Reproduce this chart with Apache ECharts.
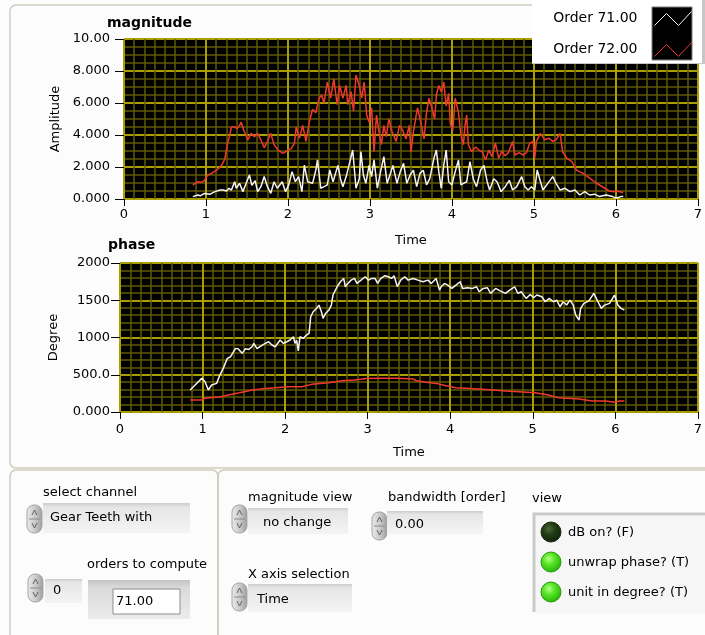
<!DOCTYPE html>
<html>
<head>
<meta charset="utf-8">
<script src="https://cdn.jsdelivr.net/npm/echarts@6/dist/echarts.min.js"></script>
<style>
  html, body { margin: 0; padding: 0; background: #fcfcfc; }
  #main { width: 705px; height: 635px; }
</style>
</head>
<body>
<div id="main"></div>
<script>
// ---- tick labels -------------------------------------------------------
const timeTicks = ['0', '1', '2', '3', '4', '5', '6', '7'];
const magYLabels = ['0.000', '2.000', '4.000', '6.000', '8.000', '10.00'];
const phaseYLabels = ['0.000', '500.0', '1000', '1500', '2000'];

const seriesNames = ['Order 71.00', 'Order 72.00'];

// ---- magnitude: [time, amplitude] --------------------------------------
const magnitude71 = [
  [0.84,0.15],[0.90,0.25],[0.93,0.2],[0.98,0.35],[1.05,0.3],[1.11,0.46],[1.17,0.56],[1.21,0.56],
  [1.25,0.5],[1.28,0.67],[1.31,0.56],[1.35,1.08],[1.37,0.67],[1.41,0.98],[1.45,0.46],[1.49,0.98],
  [1.53,1.5],[1.56,0.85],[1.60,1.15],[1.63,0.46],[1.67,0.77],[1.71,1.4],[1.75,0.77],[1.79,0.35],
  [1.83,1.08],[1.87,0.67],[1.93,1.08],[1.97,0.46],[2.01,0.88],[2.05,1.71],[2.09,1.08],[2.13,1.4],
  [2.17,0.46],[2.20,2.12],[2.24,1.08],[2.30,0.98],[2.34,1.8],[2.36,2.44],[2.40,0.67],[2.44,0.77],
  [2.48,0.88],[2.51,1.81],[2.55,1.08],[2.58,1.6],[2.61,2.1],[2.64,1.27],[2.67,0.77],[2.71,1.4],
  [2.75,2.23],[2.79,3.06],[2.83,0.67],[2.87,1.27],[2.89,2.96],[2.92,1.5],[2.95,0.98],[2.99,2.1],
  [3.02,1.4],[3.05,2.44],[3.09,0.67],[3.13,1.71],[3.17,2.65],[3.21,0.98],[3.25,1.6],[3.28,2.1],
  [3.33,0.98],[3.37,1.71],[3.41,2.23],[3.45,0.98],[3.49,1.5],[3.53,1.8],[3.57,0.77],[3.61,1.6],
  [3.65,1.8],[3.69,0.88],[3.73,1.27],[3.78,2.54],[3.81,3.06],[3.84,1.71],[3.87,0.67],[3.90,2.1],
  [3.93,3.06],[3.96,1.08],[4.00,0.88],[4.04,1.71],[4.08,2.44],[4.11,0.88],[4.14,0.98],[4.18,1.08],
  [4.22,2.33],[4.26,1.27],[4.30,0.77],[4.35,1.81],[4.39,2.1],[4.43,1.08],[4.46,0.56],[4.51,1.27],
  [4.55,1.08],[4.60,0.46],[4.65,0.77],[4.70,1.17],[4.74,0.56],[4.79,0.77],[4.85,1.4],[4.89,0.77],
  [4.93,0.56],[4.97,0.77],[5.01,0.56],[5.04,1.81],[5.07,1.27],[5.11,0.56],[5.17,0.98],[5.23,1.4],
  [5.27,0.98],[5.32,0.56],[5.38,0.67],[5.44,0.46],[5.50,0.56],[5.56,0.25],[5.62,0.46],[5.68,0.25],
  [5.74,0.3],[5.80,0.15],[5.88,0.25],[5.96,0.15],[6.00,0.05],[6.06,0.15],[6.09,0.15]
];
const magnitude72 = [
  [0.84,0.88],[0.90,1.08],[0.95,1.05],[0.98,1.15],[1.02,1.5],[1.07,1.6],[1.13,1.8],[1.19,2.1],
  [1.23,2.5],[1.26,3.4],[1.29,4.0],[1.31,4.5],[1.35,4.5],[1.38,4.4],[1.41,4.6],[1.43,4.8],
  [1.46,4.3],[1.51,3.7],[1.55,4.1],[1.59,3.9],[1.63,4.1],[1.67,3.7],[1.71,3.2],[1.75,3.6],
  [1.79,4.1],[1.83,3.4],[1.88,3.05],[1.94,2.85],[2.00,3.05],[2.04,3.15],[2.08,3.5],[2.10,4.5],
  [2.14,3.8],[2.18,4.6],[2.22,3.6],[2.26,4.8],[2.30,5.6],[2.34,5.4],[2.38,6.3],[2.41,6.5],
  [2.44,6.0],[2.48,7.3],[2.52,6.3],[2.56,7.5],[2.60,5.9],[2.63,7.1],[2.67,6.3],[2.71,7.1],
  [2.73,5.9],[2.77,6.7],[2.80,5.5],[2.83,7.75],[2.87,7.1],[2.90,6.3],[2.93,7.3],[2.96,5.25],
  [2.99,4.8],[3.02,5.7],[3.05,2.95],[3.08,5.25],[3.11,4.2],[3.14,3.4],[3.17,4.6],[3.20,3.9],
  [3.23,5.0],[3.27,4.2],[3.32,3.6],[3.36,4.6],[3.40,4.3],[3.44,3.75],[3.48,4.6],[3.50,2.95],
  [3.53,4.2],[3.58,5.7],[3.62,4.8],[3.66,3.75],[3.69,5.4],[3.72,6.3],[3.75,5.8],[3.79,5.0],
  [3.81,6.5],[3.84,7.1],[3.87,6.7],[3.90,7.3],[3.93,5.8],[3.96,6.6],[3.98,4.7],[4.01,4.3],
  [4.04,6.3],[4.08,5.4],[4.11,4.0],[4.14,3.4],[4.16,4.6],[4.18,5.25],[4.20,3.4],[4.24,2.95],
  [4.29,3.25],[4.33,3.05],[4.37,2.95],[4.41,2.45],[4.45,3.05],[4.49,2.65],[4.53,3.5],[4.57,2.55],
  [4.61,3.0],[4.65,2.7],[4.69,2.9],[4.74,3.6],[4.77,2.75],[4.82,2.9],[4.87,2.75],[4.91,2.9],
  [4.95,3.5],[4.99,3.6],[5.01,2.55],[5.03,3.6],[5.08,4.1],[5.13,3.7],[5.18,3.8],[5.23,3.6],
  [5.27,3.7],[5.32,4.1],[5.35,2.95],[5.40,2.55],[5.46,2.35],[5.52,1.8],[5.60,1.6],[5.68,1.3],
  [5.76,1.0],[5.84,0.75],[5.92,0.5],[5.97,0.45],[6.01,0.5],[6.05,0.45],[6.09,0.4]
];

// ---- phase: [time, degree] ----------------------------------------------
const phase71 = [
  [0.85,295],[0.91,362],[0.99,451],[1.03,407],[1.07,295],[1.11,362],[1.17,384],[1.21,496],
  [1.25,585],[1.30,720],[1.34,742],[1.40,854],[1.43,850],[1.48,787],[1.52,850],[1.56,840],
  [1.60,876],[1.62,921],[1.66,850],[1.70,880],[1.76,921],[1.80,943],[1.84,899],[1.88,876],
  [1.94,966],[1.98,921],[2.02,943],[2.06,966],[2.10,1010],[2.12,921],[2.14,960],[2.16,820],
  [2.18,1010],[2.22,988],[2.26,1033],[2.29,1055],[2.31,1279],[2.34,1346],[2.38,1390],[2.41,1435],
  [2.44,1346],[2.46,1256],[2.49,1323],[2.53,1368],[2.56,1435],[2.58,1570],[2.63,1681],[2.67,1748],
  [2.71,1793],[2.73,1681],[2.76,1726],[2.80,1770],[2.84,1793],[2.87,1726],[2.92,1770],[2.97,1815],
  [3.01,1770],[3.05,1793],[3.09,1793],[3.12,1726],[3.16,1793],[3.21,1829],[3.25,1815],[3.29,1793],
  [3.32,1829],[3.36,1681],[3.40,1770],[3.45,1815],[3.49,1770],[3.55,1793],[3.61,1770],[3.67,1748],
  [3.73,1770],[3.77,1726],[3.83,1793],[3.87,1637],[3.89,1681],[3.93,1726],[3.97,1704],[4.02,1659],
  [4.07,1704],[4.12,1748],[4.15,1659],[4.21,1668],[4.27,1659],[4.32,1681],[4.35,1614],[4.40,1659],
  [4.45,1668],[4.49,1592],[4.55,1659],[4.61,1623],[4.67,1592],[4.72,1637],[4.78,1681],[4.82,1592],
  [4.86,1614],[4.92,1525],[4.97,1578],[5.01,1534],[5.05,1570],[5.11,1547],[5.15,1480],[5.20,1525],
  [5.25,1480],[5.29,1502],[5.33,1413],[5.37,1480],[5.41,1435],[5.45,1502],[5.49,1435],[5.52,1302],
  [5.56,1234],[5.58,1391],[5.62,1458],[5.68,1491],[5.74,1592],[5.79,1480],[5.83,1391],[5.87,1435],
  [5.93,1458],[5.99,1570],[6.03,1435],[6.07,1391],[6.11,1368]
];
const phase72 = [
  [0.85,161],[0.99,161],[1.03,183],[1.15,197],[1.22,205],[1.31,228],[1.45,259],[1.60,295],
  [1.76,317],[1.88,326],[2.04,340],[2.20,340],[2.32,371],[2.53,393],[2.69,420],[2.84,429],
  [2.99,450],[3.13,452],[3.37,452],[3.55,443],[3.59,420],[3.71,398],[3.83,384],[3.95,353],
  [4.07,326],[4.35,308],[4.51,295],[4.67,282],[4.83,273],[5.03,259],[5.19,228],[5.31,192],
  [5.56,175],[5.72,148],[5.88,148],[5.99,130],[6.05,148],[6.11,148]
];

// ---- styling ------------------------------------------------------------
const FONT = '"DejaVu Sans", Verdana, sans-serif';
const MAJOR = '#aa9e00';
const MINOR = '#605a00';
const WHITE_LINE = '#f4f4f4';
const RED_LINE = '#f0382e';

function timeAxis(gridIndex, labelMargin, nameGap) {
  return {
    type: 'value', gridIndex, min: 0, max: 7, interval: 1,
    axisLine: { show: false },
    axisTick: { show: true, length: 7, lineStyle: { color: '#000' } },
    axisLabel: { color: '#000', fontSize: 13, fontFamily: FONT, margin: labelMargin,
      formatter: v => timeTicks[Math.round(v)] },
    splitLine: { show: true, lineStyle: { color: MAJOR, width: 2 } },
    minorTick: { show: false, splitNumber: 8 },
    minorSplitLine: { show: true, lineStyle: { color: MINOR, width: 1.5 } },
    name: 'Time', nameLocation: 'middle', nameGap,
    nameTextStyle: { color: '#000', fontSize: 13, fontFamily: FONT }
  };
}

function valueAxis(gridIndex, max, interval, minorSplit, labels, name, labelMargin, nameGap) {
  return {
    type: 'value', gridIndex, min: 0, max, interval,
    axisLine: { show: false },
    axisTick: { show: true, length: 9, lineStyle: { color: '#000' } },
    axisLabel: { color: '#000', fontSize: 13, fontFamily: FONT, margin: labelMargin,
      formatter: v => labels[Math.round(v / interval)] },
    splitLine: { show: true, lineStyle: { color: MAJOR, width: 2 } },
    minorTick: { show: false, splitNumber: minorSplit },
    minorSplitLine: { show: true, lineStyle: { color: MINOR, width: 1.5 } },
    name, nameLocation: 'middle', nameGap, nameRotate: 90,
    nameTextStyle: { color: '#000', fontSize: 13, fontFamily: FONT }
  };
}

function lineSeries(name, data, color, xi) {
  return {
    type: 'line', name, data, xAxisIndex: xi, yAxisIndex: xi, z: 3,
    showSymbol: false, symbol: 'none', animation: false, clip: true,
    lineStyle: { color, width: 1.5 }, itemStyle: { color }
  };
}

// ---- front-panel decorations --------------------------------------------
function spinner(x, y, h) {
  const m = h / 2;
  return {
    type: 'group', x, y, z: 2, children: [
      { type: 'rect', shape: { x: 0, y: 0, width: 15, height: h, r: 7 },
        style: { fill: { type: 'linear', x: 0, y: 0, x2: 1, y2: 0,
          colorStops: [{ offset: 0, color: '#ececec' }, { offset: 0.55, color: '#c8c8c8' }, { offset: 1, color: '#9a9a9a' }] },
          stroke: '#a4a4a4', lineWidth: 1 } },
      { type: 'line', shape: { x1: 2, y1: m, x2: 13, y2: m }, style: { stroke: '#8a8a8a', lineWidth: 1 } },
      { type: 'polyline', shape: { points: [[5, m - 4], [7.5, m - 9], [10, m - 4]] }, style: { stroke: '#606060', fill: null, lineWidth: 1 } },
      { type: 'polyline', shape: { points: [[5, m + 4], [7.5, m + 9], [10, m + 4]] }, style: { stroke: '#606060', fill: null, lineWidth: 1 } }
    ]
  };
}

function ringBox(x, y, w, h) {
  return { type: 'rect', z: 1, shape: { x, y, width: w, height: h },
    style: { fill: { type: 'linear', x: 0, y: 0, x2: 0, y2: 1,
      colorStops: [{ offset: 0, color: '#cdcdcd' }, { offset: 0.14, color: '#e6e6e6' }, { offset: 1, color: '#f4f4f4' }] } } };
}

function label(text, x, y) {
  return { type: 'text', x, y, z: 3,
    style: { text, fill: '#000', font: '13px ' + FONT, textVerticalAlign: 'middle' } };
}

function led(cx, cy, on) {
  const stops = on
    ? [{ offset: 0, color: '#b8ff90' }, { offset: 0.35, color: '#5fe82a' }, { offset: 0.85, color: '#2cbc0c' }, { offset: 1, color: '#1c8a06' }]
    : [{ offset: 0, color: '#4d6a3a' }, { offset: 0.4, color: '#243d16' }, { offset: 1, color: '#0f1d08' }];
  return { type: 'circle', z: 3, shape: { cx, cy, r: 10 },
    style: { fill: { type: 'radial', x: 0.4, y: 0.35, r: 0.7, colorStops: stops }, stroke: on ? '#2a9a10' : '#18260e', lineWidth: 1 } };
}

const zigzag = 'path://M0,14 L12,2 L24,14 L37,0';

const graphics = [
  // panel frames
  { type: 'rect', z: 0, shape: { x: 10, y: 5, width: 705, height: 463, r: 6 }, style: { fill: 'none', stroke: '#cfcbbd', lineWidth: 1.5 } },
  { type: 'rect', z: 0, shape: { x: 10, y: 470, width: 208, height: 180, r: 6 }, style: { fill: 'none', stroke: '#cfcbbd', lineWidth: 1.5 } },
  { type: 'rect', z: 0, shape: { x: 218, y: 470, width: 500, height: 180, r: 6 }, style: { fill: 'none', stroke: '#cfcbbd', lineWidth: 1.5 } },

  // legend backdrop
  { type: 'rect', z: 5, shape: { x: 532, y: -1, width: 171, height: 64 }, style: { fill: '#ffffff' } },
  { type: 'rect', z: 5, shape: { x: 702, y: 0, width: 3, height: 64 }, style: { fill: '#c6c6c6' } },
  { type: 'line', z: 5, shape: { x1: 532, y1: 63.5, x2: 705, y2: 63.5 }, style: { stroke: '#c8c8c8', lineWidth: 1 } },
  { type: 'rect', z: 6, shape: { x: 652, y: 7, width: 40, height: 53 }, style: { fill: '#000', stroke: '#7a7a7a', lineWidth: 1 } },

  // select channel
  label('select channel', 43, 493),
  ringBox(43, 503, 147, 30), spinner(27, 505, 28),
  label('Gear Teeth with', 50, 518),

  // orders to compute
  label('orders to compute', 87, 565),
  ringBox(45, 579, 37, 24), spinner(28, 574, 28),
  label('0', 53, 591),
  { type: 'rect', z: 1, shape: { x: 88, y: 580, width: 102, height: 39 },
    style: { fill: { type: 'linear', x: 0, y: 0, x2: 0, y2: 1,
      colorStops: [{ offset: 0, color: '#c4c4c4' }, { offset: 0.2, color: '#dadada' }, { offset: 1, color: '#ececec' }] } } },
  spinner(94, 584, 29),
  { type: 'rect', z: 2, shape: { x: 113, y: 589, width: 67, height: 25 }, style: { fill: '#ffffff', stroke: '#8c8c8c', lineWidth: 1 } },
  label('71.00', 116, 602),

  // magnitude view / X axis selection
  label('magnitude view', 248, 498),
  ringBox(248, 508, 100, 26), spinner(232, 505, 28),
  label('no change', 263, 523),
  label('X axis selection', 248, 575),
  ringBox(248, 584, 104, 28), spinner(232, 583, 28),
  label('Time', 257, 600),

  // bandwidth
  label('bandwidth [order]', 388, 498),
  ringBox(387, 511, 96, 23), spinner(372, 512, 28),
  label('0.00', 395, 525),

  // view cluster
  label('view', 532, 499),
  { type: 'rect', z: 1, shape: { x: 533, y: 513, width: 175, height: 100 },
    style: { fill: '#f6f6f6', stroke: null } },
  { type: 'polyline', z: 1, shape: { points: [[534, 612], [534, 514], [705, 514]] }, style: { stroke: '#c9c9c9', lineWidth: 3, fill: null } },
  led(551, 532, false), led(551, 562, true), led(551, 592, true),
  label('dB on? (F)', 568, 533),
  label('unwrap phase? (T)', 568, 563),
  label('unit in degree? (T)', 568, 593)
];

const chart = echarts.init(document.getElementById('main'), null, { renderer: 'canvas' });
chart.setOption({
  backgroundColor: '#fcfcfc',
  animation: false,
  textStyle: { fontFamily: FONT },
  title: [
    { text: 'magnitude', left: 107, top: 16, padding: 0,
      textStyle: { fontSize: 14, fontWeight: 'bold', color: '#000', fontFamily: FONT } },
    { text: 'phase', left: 108, top: 238, padding: 0,
      textStyle: { fontSize: 14, fontWeight: 'bold', color: '#000', fontFamily: FONT } }
  ],
  legend: {
    orient: 'vertical', right: 13, top: 11, padding: 0, z: 10,
    align: 'right', itemWidth: 37, itemHeight: 14, itemGap: 16,
    textStyle: { fontSize: 14, color: '#000', fontFamily: FONT, padding: [0, 12, 0, 0] },
    data: [
      { name: seriesNames[0], icon: zigzag, itemStyle: { color: 'rgba(0,0,0,0)', borderColor: WHITE_LINE, borderWidth: 1 } },
      { name: seriesNames[1], icon: zigzag, itemStyle: { color: 'rgba(0,0,0,0)', borderColor: RED_LINE, borderWidth: 1 } }
    ]
  },
  grid: [
    { left: 124, top: 39, width: 576, height: 160, show: true, backgroundColor: '#000', borderColor: '#707070', borderWidth: 1 },
    { left: 120, top: 263, width: 579, height: 149, show: true, backgroundColor: '#000', borderColor: '#707070', borderWidth: 1 }
  ],
  xAxis: [timeAxis(0, 9, 35), timeAxis(1, 11, 34)],
  yAxis: [
    valueAxis(0, 10, 2, 4, magYLabels, 'Amplitude', 14, 58),
    valueAxis(1, 2000, 500, 5, phaseYLabels, 'Degree', 10, 60)
  ],
  series: [
    lineSeries(seriesNames[0], magnitude71, WHITE_LINE, 0),
    lineSeries(seriesNames[1], magnitude72, RED_LINE, 0),
    lineSeries(seriesNames[0], phase71, WHITE_LINE, 1),
    lineSeries(seriesNames[1], phase72, RED_LINE, 1)
  ],
  graphic: graphics
});
</script>
</body>
</html>
